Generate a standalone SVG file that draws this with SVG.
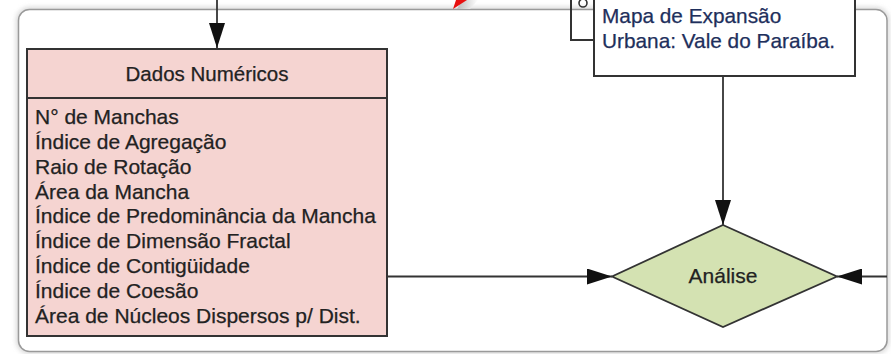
<svg xmlns="http://www.w3.org/2000/svg" width="891" height="354" viewBox="0 0 891 354">
  <defs>
    <marker id="ah" viewBox="0 0 25 16" refX="25" refY="8" markerWidth="25" markerHeight="16" markerUnits="userSpaceOnUse" orient="auto">
      <path d="M0,0 L25,8 L0,16 Z" fill="#111"/>
    </marker>
    <filter id="sh" x="-5%" y="-5%" width="110%" height="110%">
      <feGaussianBlur stdDeviation="2.5"/>
    </filter>
    <linearGradient id="gg" x1="0" y1="0" x2="1" y2="0">
      <stop offset="0" stop-color="#bbbbbb"/>
      <stop offset="1" stop-color="#ffffff"/>
    </linearGradient>
  </defs>
  <style>
    text { font-family: "Liberation Sans", Arial, sans-serif; }
    .lbl { font-size: 21px; fill: #222; stroke: #222; stroke-width: 0.25; }
    .hdr { font-size: 20.5px; fill: #222; stroke: #222; stroke-width: 0.25; }
    .blue { font-size: 20.8px; fill: #1e2f5c; stroke: #1e2f5c; stroke-width: 0.25; }
    .edge { fill: none; stroke: #333; stroke-width: 1.8; }
    .box { stroke: #333; stroke-width: 2; }
  </style>
  <rect width="891" height="354" fill="#ffffff"/>
  <!-- frame -->
  <rect x="18.5" y="9.5" width="868.5" height="342" rx="11" fill="none" stroke="#cfcfcf" stroke-width="4" filter="url(#sh)"/>
  <rect x="18.5" y="9.5" width="868.5" height="342" rx="11" fill="#ffffff" stroke="#9a9a9a" stroke-width="1.5"/>
  <!-- red pointer at top -->
  <polygon points="457,9 462,0 478,0 470,9" fill="url(#gg)"/>
  <polygon points="453,9 456,0 467,0" fill="#e81010"/>

  <g id="connectors">
    <line class="edge" x1="217" y1="0" x2="217" y2="48" marker-end="url(#ah)"/>
    <line class="edge" x1="723" y1="76" x2="723" y2="225" marker-end="url(#ah)"/>
    <line class="edge" x1="387" y1="276.5" x2="612" y2="276.5" marker-end="url(#ah)"/>
    <line class="edge" x1="887" y1="276.5" x2="837" y2="276.5" marker-end="url(#ah)"/>
  </g>

  <g id="dados">
    <rect class="box" x="27" y="49" width="360" height="287" fill="#f5d4d1"/>
    <line class="box" x1="27" y1="98" x2="387" y2="98"/>
    <text class="hdr" x="207" y="81" text-anchor="middle" font-family="Liberation Sans, Arial, sans-serif">Dados Numéricos</text>
    <g font-family="Liberation Sans, Arial, sans-serif">
    <text class="lbl" x="35" y="124">N° de Manchas</text>
    <text class="lbl" x="35" y="148.9">Índice de Agregação</text>
    <text class="lbl" x="35" y="173.7">Raio de Rotação</text>
    <text class="lbl" x="35" y="198.6">Área da Mancha</text>
    <text class="lbl" x="35" y="223.4">Índice de Predominância da Mancha</text>
    <text class="lbl" x="35" y="248.3">Índice de Dimensão Fractal</text>
    <text class="lbl" x="35" y="273.1">Índice de Contigüidade</text>
    <text class="lbl" x="35" y="298">Índice de Coesão</text>
    <text class="lbl" x="35" y="322.8">Área de Núcleos Dispersos p/ Dist.</text>
    </g>
  </g>

  <g id="mapa">
    <path d="M571,0 V40 H594" fill="none" stroke="#333" stroke-width="2"/>
    <circle cx="583" cy="3" r="4" fill="none" stroke="#333" stroke-width="1.6"/>
    <rect class="box" x="594" y="-10" width="261" height="86" fill="#ffffff"/>
    <text class="blue" x="602" y="23">Mapa de Expansão</text>
    <text class="blue" x="602" y="48">Urbana: Vale do Paraíba.</text>
  </g>

  <g id="analise">
    <polygon points="723,225 837,276.5 723,327 612,276.5" fill="#d4e2b2" stroke="#333" stroke-width="1.8"/>
    <text class="lbl" x="723" y="283" text-anchor="middle">Análise</text>
  </g>
</svg>
